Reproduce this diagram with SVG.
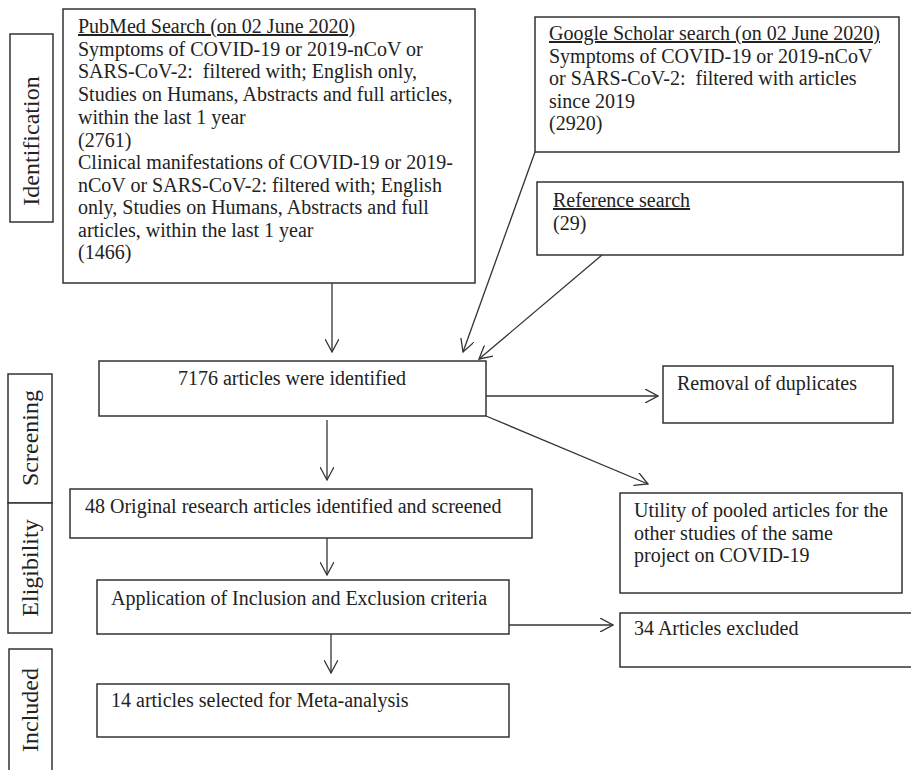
<svg xmlns="http://www.w3.org/2000/svg" width="911" height="770" viewBox="0 0 911 770">
<defs>
<style>
.box{fill:#fff;stroke:#333;stroke-width:1.5}
.t{font-family:"Liberation Serif","Times New Roman",serif;font-size:20px;fill:#222;white-space:pre}
.s{font-family:"Liberation Serif","Times New Roman",serif;font-size:24px;fill:#222}
.u{text-decoration:underline}
.c{fill:none;stroke:#333;stroke-width:1.3}
</style>
<marker id="ah" markerUnits="userSpaceOnUse" markerWidth="14" markerHeight="14" refX="13" refY="7" orient="auto">
<path d="M0,0 L13,7 L0,14" fill="none" stroke="#333" stroke-width="1.3"/>
</marker>
</defs>
<rect width="911" height="770" fill="#fff"/>

<g id="stage-identification">
<rect class="box" x="10" y="34" width="43" height="188"/>
<text class="s" transform="translate(39,141) rotate(-90)" text-anchor="middle">Identification</text>
</g>
<g id="stage-screening">
<rect class="box" x="8" y="374" width="44" height="129"/>
<text class="s" transform="translate(38,438) rotate(-90)" text-anchor="middle">Screening</text>
</g>
<g id="stage-eligibility">
<rect class="box" x="8" y="503" width="44" height="130"/>
<text class="s" transform="translate(38,568) rotate(-90)" text-anchor="middle">Eligibility</text>
</g>
<g id="stage-included">
<rect class="box" x="9" y="649" width="43" height="130"/>
<text class="s" transform="translate(38,710) rotate(-90)" text-anchor="middle">Included</text>
</g>

<g id="pubmed">
<rect class="box" x="63" y="9" width="412" height="274"/>
<text class="t u" x="78" y="33">PubMed Search (on 02 June 2020)</text>
<text class="t" x="78" y="56">Symptoms of COVID-19 or 2019-nCoV or</text>
<text class="t" x="78" y="78">SARS-CoV-2:  filtered with; English only,</text>
<text class="t" x="78" y="101">Studies on Humans, Abstracts and full articles,</text>
<text class="t" x="78" y="124">within the last 1 year</text>
<text class="t" x="78" y="147">(2761)</text>
<text class="t" x="78" y="169">Clinical manifestations of COVID-19 or 2019-</text>
<text class="t" x="78" y="192">nCoV or SARS-CoV-2: filtered with; English</text>
<text class="t" x="78" y="214">only, Studies on Humans, Abstracts and full</text>
<text class="t" x="78" y="237">articles, within the last 1 year</text>
<text class="t" x="78" y="259">(1466)</text>
</g>

<g id="google">
<rect class="box" x="535" y="17" width="364" height="135"/>
<text class="t u" x="549" y="40">Google Scholar search (on 02 June 2020)</text>
<text class="t" x="549" y="63">Symptoms of COVID-19 or 2019-nCoV</text>
<text class="t" x="549" y="85">or SARS-CoV-2:  filtered with articles</text>
<text class="t" x="549" y="108">since 2019</text>
<text class="t" x="549" y="130">(2920)</text>
</g>

<g id="reference">
<rect class="box" x="537" y="182" width="366" height="73"/>
<text class="t u" x="553" y="207">Reference search</text>
<text class="t" x="553" y="230">(29)</text>
</g>

<g id="identified">
<rect class="box" x="99" y="361" width="387" height="55"/>
<text class="t" x="292" y="385" text-anchor="middle">7176 articles were identified</text>
</g>

<g id="duplicates">
<rect class="box" x="663" y="366" width="230" height="57"/>
<text class="t" x="677" y="390">Removal of duplicates</text>
</g>

<g id="utility">
<rect class="box" x="620" y="493" width="282" height="100"/>
<text class="t" x="634" y="517">Utility of pooled articles for the</text>
<text class="t" x="634" y="540">other studies of the same</text>
<text class="t" x="634" y="562">project on COVID-19</text>
</g>

<g id="screened">
<rect class="box" x="70" y="489" width="462" height="49"/>
<text class="t" x="85" y="513">48 Original research articles identified and screened</text>
</g>

<g id="criteria">
<rect class="box" x="97" y="580" width="412" height="54"/>
<text class="t" x="111" y="605">Application of Inclusion and Exclusion criteria</text>
</g>

<g id="excluded">
<rect class="box" x="620" y="613" width="300" height="54"/>
<text class="t" x="634" y="635">34 Articles excluded</text>
</g>

<g id="selected">
<rect class="box" x="97" y="684" width="412" height="53"/>
<text class="t" x="111" y="707">14 articles selected for Meta-analysis</text>
</g>

<g id="connectors">
<line class="c" x1="332" y1="283" x2="332" y2="352" marker-end="url(#ah)"/>
<line class="c" x1="535" y1="152" x2="463" y2="352" marker-end="url(#ah)"/>
<line class="c" x1="602" y1="255" x2="479" y2="359" marker-end="url(#ah)"/>
<line class="c" x1="486" y1="396" x2="658" y2="396" marker-end="url(#ah)"/>
<line class="c" x1="486" y1="416" x2="648" y2="484" marker-end="url(#ah)"/>
<line class="c" x1="327" y1="420" x2="327" y2="480" marker-end="url(#ah)"/>
<line class="c" x1="327" y1="538" x2="327" y2="575" marker-end="url(#ah)"/>
<line class="c" x1="331" y1="634" x2="331" y2="673" marker-end="url(#ah)"/>
<line class="c" x1="509" y1="625" x2="613" y2="625" marker-end="url(#ah)"/>
</g>
</svg>
